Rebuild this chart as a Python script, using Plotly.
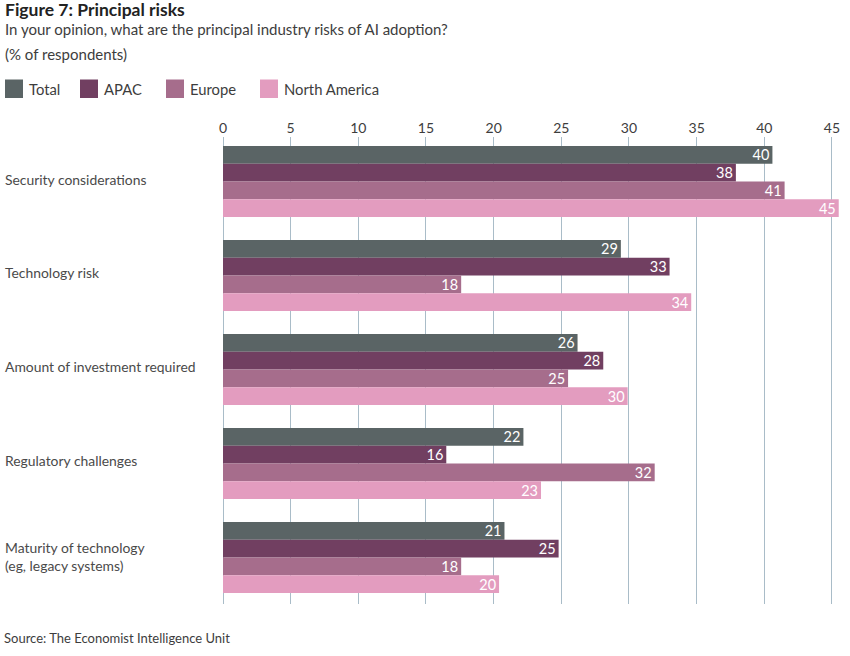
import plotly.graph_objects as go

categories = ["Security considerations", "Technology risk", "Amount of investment required",
              "Regulatory challenges", "Maturity of technology<br>(eg, legacy systems)"]
series_names = ["Total", "APAC", "Europe", "North America"]
# Printed labels
total_labels = [40, 29, 26, 22, 21]
apac_labels = [38, 33, 28, 16, 25]
europe_labels = [41, 18, 25, 32, 18]
north_america_labels = [45, 34, 30, 23, 20]
# Bar lengths as drawn in the picture (read against the axis)
total = [40.6, 29.4, 26.2, 22.2, 20.8]
apac = [37.9, 33.0, 28.1, 16.5, 24.8]
europe = [41.5, 17.6, 25.5, 31.9, 17.6]
north_america = [45.5, 34.6, 29.9, 23.5, 20.4]
colors = ["#5a6465", "#713f61", "#a66d8c", "#e39cbf"]
FONT = "Lato, Open Sans, sans-serif"
TXT = "#3d3d3d"

L, T, R, B = 223, 137, 11, 52
W, H = 850, 656
PW, PH = W - L - R, H - T - B

fig = go.Figure()
for name, vals, labels, c in zip(series_names,
                                 [total, apac, europe, north_america],
                                 [total_labels, apac_labels, europe_labels, north_america_labels],
                                 colors):
    fig.add_trace(go.Bar(
        name=name, y=categories, x=vals, orientation="h",
        marker=dict(color=c, line=dict(width=0)),
        text=[str(v) for v in labels], textposition="inside", insidetextanchor="end",
        textangle=0, constraintext="none",
        textfont=dict(color="white", size=14.5, family=FONT),
        hoverinfo="x+name",
    ))

fig.update_layout(
    width=W, height=H, autosize=False, barmode="group", bargap=0.245, bargroupgap=0,
    paper_bgcolor="white", plot_bgcolor="white",
    margin=dict(l=L, r=R, t=T, b=B),
    font=dict(family=FONT, color=TXT, size=14),
    showlegend=False,
    xaxis=dict(side="top", range=[0, 45.52], tickvals=list(range(0, 46, 5)),
               showgrid=True, gridcolor="#a9bcc8", gridwidth=1.4, zeroline=True,
               zerolinecolor="#a9bcc8", zerolinewidth=1.4,
               ticks="", showline=False,
               tickfont=dict(size=14, color=TXT), automargin=False),
    yaxis=dict(range=[4.495, -0.473], ticks="", showline=False, showgrid=False,
               showticklabels=False, automargin=False),
)

px = lambda x: (x - L) / PW
py = lambda y: 1 - (y - T) / PH

def note(text, x, y, size=15, color=TXT):
    fig.add_annotation(text=text, x=px(x), y=py(y), xref="paper", yref="paper",
                       xanchor="left", yanchor="middle", showarrow=False,
                       font=dict(size=size, color=color, family=FONT), align="left",
                       borderpad=0)

note("<b>Figure 7: Principal risks</b>", 4, 10, size=17.5, color="#222222")
note("In your opinion, what are the principal industry risks of AI adoption?", 4, 29, size=15)
note("(% of respondents)", 4, 54, size=15)
note("Source: The Economist Intelligence Unit", 3, 638, size=13)

for name, x0, tx, c in zip(series_names, [5, 80, 166, 260], [28, 103, 189, 283], colors):
    fig.add_shape(type="rect", xref="paper", yref="paper", x0=px(x0), x1=px(x0 + 18),
                  y0=py(98), y1=py(79.5), fillcolor=c, line_width=0)
    note(name, tx, 89, size=14.8)

for cat, y in zip(categories, [180, 273, 367, 461, 557]):
    note(cat, 4, y - 0.5, size=13.9, color="#4a4a4a")

fig.write_html("out.html", post_script="document.body.style.margin='0';",
               config=dict(displayModeBar=False))
